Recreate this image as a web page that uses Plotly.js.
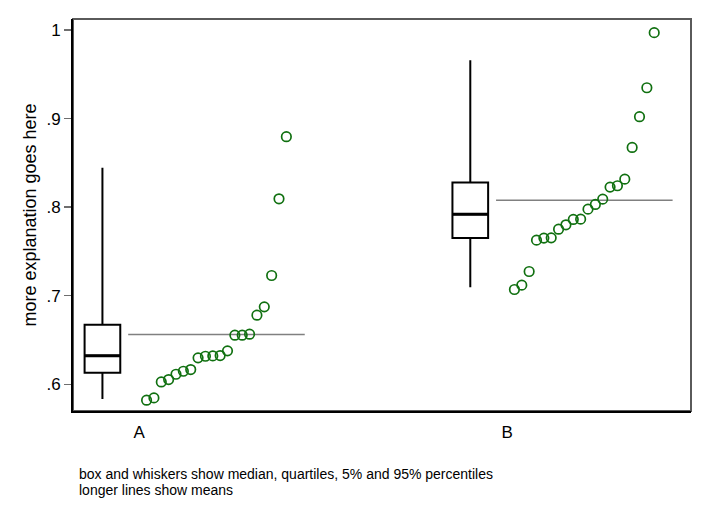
<!DOCTYPE html>
<html>
<head>
<meta charset="utf-8">
<script src="https://cdn.plot.ly/plotly-3.0.1.min.js"></script>
<style>
  html, body { margin: 0; padding: 0; background: #fff; }
  #chart { width: 710px; height: 517px; }
</style>
</head>
<body>
<div id="chart"></div>
<script>
var grupos = ["A", "B"];
var posicion = [1, 2];
// sorted values per group
var valA =
[0.582, 0.5846, 0.6026, 0.6053, 0.6113, 0.6147, 0.6166, 0.6298, 0.6316, 0.632, 0.6324, 0.6377, 0.6554, 0.6554, 0.6565, 0.678, 0.6874, 0.7228, 0.8094, 0.8795];
var valB =
[0.707, 0.7119, 0.7273, 0.7627, 0.765, 0.7653, 0.7751, 0.78, 0.7861, 0.7864, 0.7977, 0.803, 0.809, 0.8226, 0.8241, 0.8316, 0.8674, 0.9021, 0.9348, 0.997];
var yTicks = [0.6, 0.7, 0.8, 0.9, 1];
var yTickText = [".6", ".7", ".8", ".9", "1"];

var fuente = "Liberation Sans, Arial, sans-serif";
var verde = "rgb(16,112,16)";

// Stata style percentile (default _pctile definition)
function centil(v, p){
    var n = v.length;
    var np = n * p / 100;
    var i = Math.floor(np);
    if (np === i) {
        return (v[i - 1] + v[i]) / 2;
    }
    return v[i];
}

function media(v){
    var s = 0;
    for (var i = 0; i < v.length; i++) s += v[i];
    return s / v.length;
}

function graficar(){
    var datos = [valA, valB];
    var traces = [];
    var anchoCaja = 0.097;
    for (var g = 0; g < datos.length; g++) {
        var v = datos[g];
        var c = posicion[g];
        var xc = c - 0.1;
        var med = centil(v, 50);

        traces.push({
            type: 'box',
            x: [xc],
            q1: [centil(v, 25)],
            median: [med],
            q3: [centil(v, 75)],
            lowerfence: [centil(v, 5)],
            upperfence: [centil(v, 95)],
            width: anchoCaja,
            whiskerwidth: 0,
            fillcolor: 'white',
            line: {color: 'black', width: 2},
            boxpoints: false,
            hoverinfo: 'skip'
        });

        // thicker median bar
        traces.push({
            type: 'scatter',
            mode: 'lines',
            x: [xc - anchoCaja / 2, xc + anchoCaja / 2],
            y: [med, med],
            line: {color: 'black', width: 3},
            hoverinfo: 'skip'
        });

        var m = media(v);
        traces.push({
            type: 'scatter',
            mode: 'lines',
            x: [c - 0.03, c + 0.45],
            y: [m, m],
            line: {color: 'rgb(128,128,128)', width: 1.5},
            hoverinfo: 'skip'
        });

        var xs = [];
        for (var i = 0; i < v.length; i++) xs.push(c + 0.02 * (i + 1));
        traces.push({
            type: 'scatter',
            mode: 'markers',
            x: xs,
            y: v,
            marker: {
                symbol: 'circle-open',
                size: 9.5,
                color: verde,
                line: {color: verde, width: 1.7}
            },
            hoverinfo: 'skip'
        });
    }

    var layout = {
        width: 710,
        height: 517,
        margin: {l: 73, r: 19, t: 19, b: 106},
        paper_bgcolor: 'white',
        plot_bgcolor: 'white',
        showlegend: false,
        font: {family: fuente, color: 'black'},
        xaxis: {
            range: [0.82, 2.5],
            tickvals: posicion,
            ticktext: grupos,
            ticks: 'outside',
            ticklen: 5,
            tickcolor: 'rgba(0,0,0,0)',
            tickfont: {size: 17, family: fuente},
            showgrid: false,
            zeroline: false,
            showline: true,
            linecolor: 'black',
            linewidth: 2
        },
        yaxis: {
            range: [0.5698, 1.0124],
            tickvals: yTicks,
            ticktext: yTickText,
            ticks: 'outside',
            ticklen: 7,
            tickwidth: 1.5,
            tickcolor: 'rgb(110,110,110)',
            tickfont: {size: 17, family: fuente},
            showgrid: false,
            zeroline: false,
            showline: true,
            linecolor: 'black',
            linewidth: 2,
            title: {text: 'more explanation goes here', font: {size: 18, family: fuente}, standoff: 5}
        },
        shapes: [{
            type: 'rect',
            xref: 'paper', yref: 'paper',
            x0: 0, x1: 1, y0: 0, y1: 1,
            line: {color: 'rgb(90,90,90)', width: 2},
            layer: 'below'
        }],
        annotations: [{
            xref: 'paper', yref: 'paper',
            x: 0.006, y: -0.1607,
            xanchor: 'left', yanchor: 'middle',
            showarrow: false,
            text: 'box and whiskers show median, quartiles, 5% and 95% percentiles',
            font: {size: 14, family: fuente}
        }, {
            xref: 'paper', yref: 'paper',
            x: 0.006, y: -0.2015,
            xanchor: 'left', yanchor: 'middle',
            showarrow: false,
            text: 'longer lines show means',
            font: {size: 14, family: fuente}
        }]
    };

    Plotly.newPlot('chart', traces, layout, {displayModeBar: false, staticPlot: true});
}

graficar();
</script>
</body>
</html>
